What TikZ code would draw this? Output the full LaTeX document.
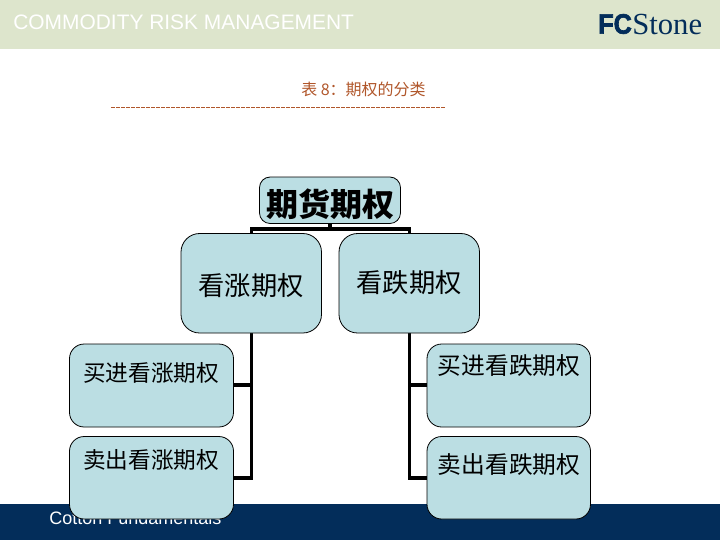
\documentclass[tikz,border=0pt]{standalone}
\usepackage{fontspec}
\setmainfont{Liberation Sans}
\newfontfamily\cjk{Noto Sans CJK SC}
\newfontfamily\logofont[FakeBold=2.5]{Liberation Sans Bold}
\newfontfamily\stonefont{Liberation Serif}
\definecolor{bandgreen}{HTML}{DDE5CC}
\definecolor{navy}{HTML}{032D5A}
\definecolor{boxfill}{HTML}{BBDEE3}
\definecolor{rust}{HTML}{B0562A}
\tikzset{
  px/.style={x=0.75pt,y=-0.75pt},
  optbox/.style={draw=black,line width=0.6pt,fill=boxfill,rounded corners=11pt,inner sep=0pt,text=black},
  link/.style={draw=black,line width=2.3pt},
  boxtext/.style={font=\cjk\fontsize{17pt}{20pt}\selectfont,inner sep=0pt,text=black},
  boxtextr/.style={font=\cjk\fontsize{17.8pt}{20pt}\selectfont,inner sep=0pt,text=black}
}
\begin{document}
\begin{tikzpicture}[px]
\useasboundingbox (0,0) rectangle (720,540);
\fill[bandgreen] (0,0) rectangle (720,49);
\fill[navy] (0,504) rectangle (720,540);
\node[inner sep=0pt,anchor=west,text=white,font=\fontsize{15.7pt}{18pt}\selectfont] (head) at (13,22) {COMMODITY RISK MANAGEMENT};
\node[inner sep=0pt,anchor=west,text=navy,font=\logofont\fontsize{21pt}{24pt}\selectfont,xscale=0.9] (logoa) at (598,24) {FC};
\node[inner sep=0pt,anchor=west,text=navy,font=\stonefont\fontsize{23pt}{26pt}\selectfont] (logob) at (632,24.5) {Stone};
\node[inner sep=0pt,text=rust,font=\cjk\fontsize{12pt}{14pt}\selectfont] (title) at (363.5,89) {表 8：期权的分类};
\coordinate (ruleL) at (111,107);
\coordinate (ruleR) at (446,107);
\draw[rust,line width=0.75pt,dash pattern=on 3pt off 0.75pt] (ruleL) -- (ruleR);
\node[inner sep=0pt,anchor=west,text=white,font=\fontsize{13.5pt}{16pt}\selectfont] (foot) at (49,518) {Cotton Fundamentals};

\coordinate (j) at (330,229);
\coordinate (jL) at (251.3,229);
\coordinate (jR) at (409.3,229);
\coordinate (bL) at (251.3,478);
\coordinate (bR) at (409.3,478);
\coordinate (mL) at (251.3,385);
\coordinate (mR) at (409.3,385);
\coordinate (rootc) at (330,200);
\draw[link] (rootc) -- (j);
\draw[link] (jL) -- (jR);
\draw[link,line cap=rect] (jL) -- (bL);
\draw[link,line cap=rect] (jR) -- (bR);
\draw[link] (bL) -- ++(-21,0);
\draw[link] (bR) -- ++(21,0);
\draw[link] (mL) -- ++(-21,0);
\draw[link] (mR) -- ++(21,0);
\path[optbox,rounded corners=8pt] (259.5,177) rectangle (400.5,223.5);
\path[optbox,rounded corners=14pt] (181,233.5) rectangle (321.5,333);
\path[optbox,rounded corners=14pt] (339,233.5) rectangle (479.5,333);
\path[optbox] (69.5,344) rectangle (233.5,427);
\path[optbox] (427,344) rectangle (590.5,427);
\path[optbox] (69.5,436.5) rectangle (233.5,519);
\path[optbox] (427,436.5) rectangle (590.5,519);
\node[inner sep=0pt,font=\cjk\bfseries\fontsize{24pt}{26pt}\selectfont] (rootlab) at (330,204) {期货期权};
\node[boxtext,font=\cjk\fontsize{19.7pt}{22pt}\selectfont] (call) at (251,286) {看涨期权};
\node[boxtext,font=\cjk\fontsize{19.7pt}{22pt}\selectfont] (put) at (409,283) {看跌期权};
\node[boxtext] (a) at (151,373) {买进看涨期权};
\node[boxtextr] (b) at (509,366) {买进看跌期权};
\node[boxtext] (c) at (151,460) {卖出看涨期权};
\node[boxtextr] (d) at (509,465) {卖出看跌期权};
\end{tikzpicture}
\end{document}
